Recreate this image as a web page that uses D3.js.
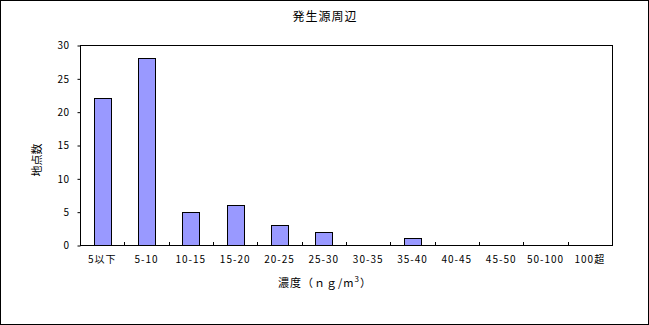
<!DOCTYPE html>
<html>
<head>
<meta charset="utf-8">
<script src="https://cdn.jsdelivr.net/npm/d3@7"></script>
<style>
  body { margin: 0; background: #fff; }
  svg text { font-family: "Noto Sans CJK JP", "DejaVu Sans", sans-serif; fill: #000; }
</style>
</head>
<body>
<svg id="chart" width="649" height="325"></svg>
<script>
// chart data
const categories = ["5以下", "5-10", "10-15", "15-20", "20-25", "25-30", "30-35", "35-40", "40-45", "45-50", "50-100", "100超"];
const counts = [22, 28, 5, 6, 3, 2, 0, 1, 0, 0, 0, 0];
const yTicks = [0, 5, 10, 15, 20, 25, 30];

const svg = d3.select("#chart");
const W = 649, H = 325;
const plot = { left: 80, top: 45, right: 612, bottom: 245 };

// outer border
svg.append("rect")
  .attr("x", 0.5).attr("y", 0.5)
  .attr("width", W - 1).attr("height", H - 1)
  .attr("fill", "#fff").attr("stroke", "#000");

const x = d3.scaleBand()
  .domain(categories)
  .range([plot.left, plot.right]);

const y = d3.scaleLinear()
  .domain([0, 30])
  .range([plot.bottom, plot.top]);

// plot frame
svg.append("rect")
  .attr("x", plot.left + 0.5).attr("y", plot.top + 0.5)
  .attr("width", plot.right - plot.left).attr("height", plot.bottom - plot.top)
  .attr("fill", "none").attr("stroke", "#000");

// bars
const barW = x.bandwidth() * 0.39;
svg.selectAll(".bar")
  .data(counts)
  .enter()
  .append("rect")
  .attr("class", "bar")
  .attr("x", (d, i) => Math.round(x(categories[i]) + (x.bandwidth() - barW) / 2) + 0.5)
  .attr("y", d => Math.round(y(d)) + 0.5)
  .attr("width", Math.round(barW))
  .attr("height", d => Math.round(y(0)) - Math.round(y(d)))
  .attr("fill", "#9999FF")
  .attr("stroke", "#000")
  .style("display", d => d > 0 ? null : "none");

// y axis
const yAxis = svg.append("g")
  .attr("transform", `translate(${plot.left + 0.5},0.5)`)
  .call(d3.axisLeft(y).tickValues(yTicks).tickSize(3).tickPadding(8));
yAxis.select(".domain").remove();
yAxis.selectAll("text").style("font-size", "10px").style("letter-spacing", "0.5px");

// x axis: small inward ticks at category boundaries
svg.selectAll(".xtick")
  .data(categories.slice(1))
  .enter()
  .append("line")
  .attr("x1", d => Math.round(x(d)) + 0.5)
  .attr("x2", d => Math.round(x(d)) + 0.5)
  .attr("y1", plot.bottom)
  .attr("y2", plot.bottom - 3)
  .attr("stroke", "#000");

svg.selectAll(".xlabel")
  .data(categories)
  .enter()
  .append("text")
  .attr("x", d => x(d) + x.bandwidth() / 2)
  .attr("y", 263)
  .attr("text-anchor", "middle")
  .style("font-size", "10px")
  .style("letter-spacing", "1px")
  .text(d => d);

// title
svg.append("text")
  .attr("x", 325).attr("y", 21)
  .attr("text-anchor", "middle")
  .style("font-size", "12px")
  .style("letter-spacing", "1px")
  .text("発生源周辺");

// y label
svg.append("text")
  .attr("transform", "translate(41,160) rotate(-90)")
  .attr("text-anchor", "middle")
  .style("font-size", "11px")
  .text("地点数");

// x label
const xl = svg.append("text")
  .attr("x", 325).attr("y", 287)
  .attr("text-anchor", "middle")
  .style("font-size", "11px")
  .style("letter-spacing", "1px");
xl.append("tspan").text("濃度（ｎｇ/m");
xl.append("tspan").attr("dy", -5).style("font-size", "8px").text("3");
xl.append("tspan").attr("dy", 5).text("）");
</script>
</body>
</html>
